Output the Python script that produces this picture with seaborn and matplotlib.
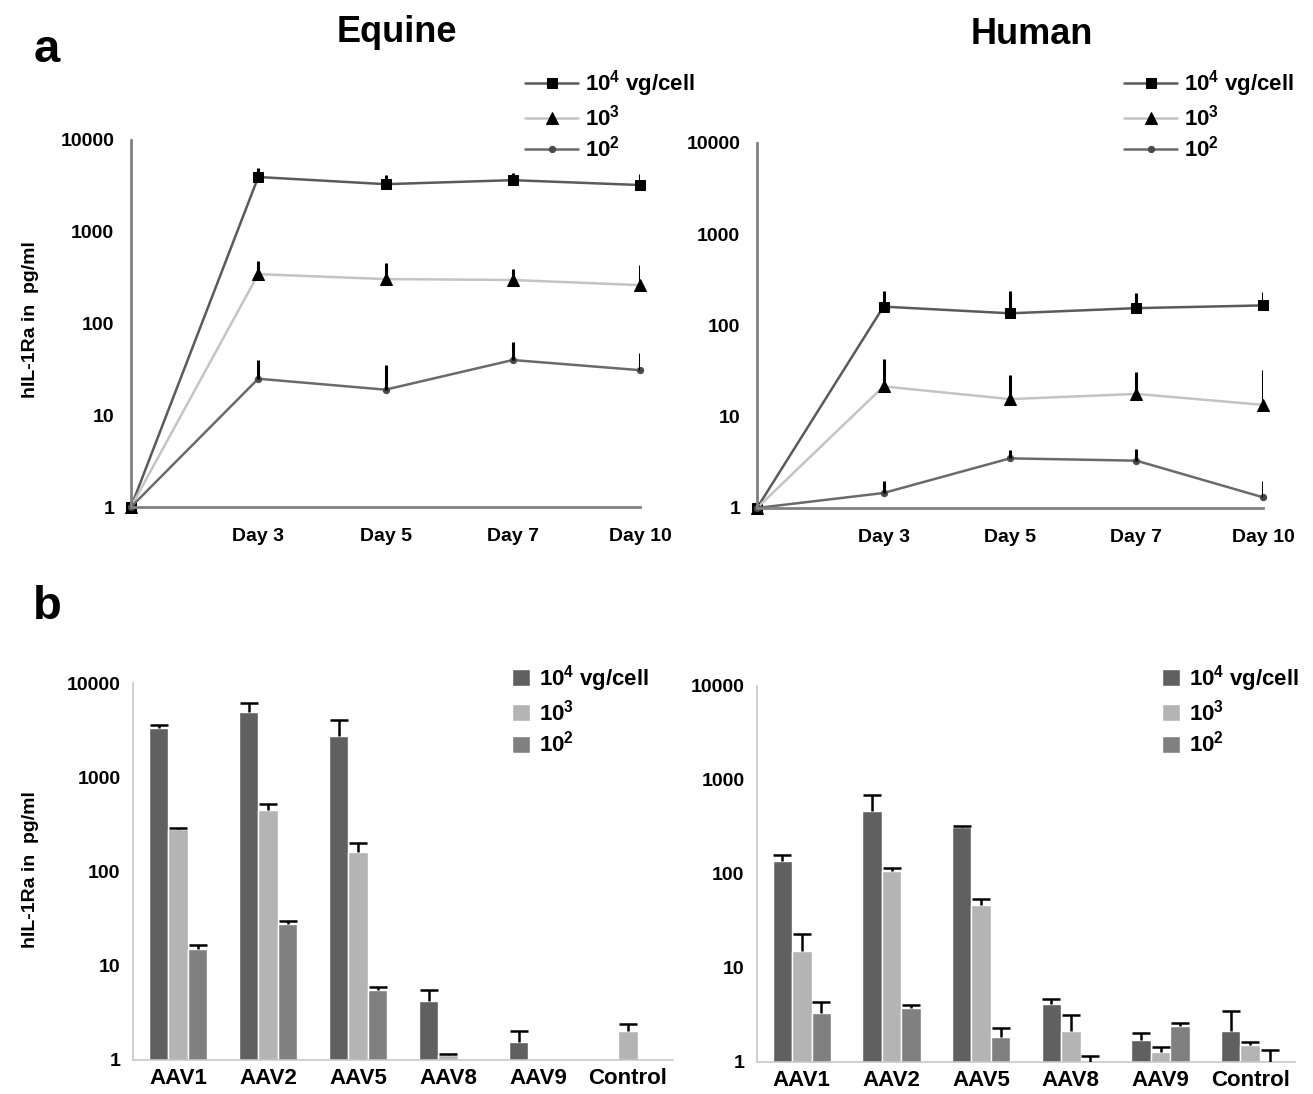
import numpy as np
import pandas as pd
import seaborn as sns
import matplotlib
matplotlib.use("Agg")
import matplotlib.pyplot as plt
from matplotlib.container import BarContainer

# ---- data ----
days = ["", "Day 3", "Day 5", "Day 7", "Day 10"]
dose_labels = ["10$^4$ vg/cell", "10$^3$", "10$^2$"]

# panel a, Equine: means and upper SD
eq_1e4 = [1, 3950, 3300, 3650, 3230]
eq_1e4_err = [0, 1000, 850, 700, 1020]
eq_1e3 = [1, 345, 305, 298, 262]
eq_1e3_err = [0, 135, 150, 92, 173]
eq_1e2 = [1, 25, 19, 40, 31]
eq_1e2_err = [0, 15, 16, 23, 17]

# panel a, Human
hu_1e4 = [1, 161, 136, 155, 166]
hu_1e4_err = [0, 79, 100, 71, 64]
hu_1e3 = [1, 21.5, 15.6, 17.8, 13.5]
hu_1e3_err = [0, 21.5, 13, 12.8, 19.2]
hu_1e2 = [1, 1.46, 3.5, 3.3, 1.31]
hu_1e2_err = [0, 0.54, 0.85, 1.1, 0.69]

# panel b
serotypes = ["AAV1", "AAV2", "AAV5", "AAV8", "AAV9", "Control"]
nan = np.nan
eqb_1e4 = [3360, 4890, 2760, 4.26, 1.56, nan]
eqb_1e4_err = [255, 1280, 1295, 1.21, 0.45, nan]
eqb_1e3 = [281, 454, 162, 1.12, nan, 2.05]
eqb_1e3_err = [5, 71, 39, 0.03, nan, 0.35]
eqb_1e2 = [15.1, 27.9, 5.57, nan, nan, nan]
eqb_1e2_err = [1.5, 1.8, 0.42, nan, nan, nan]

hub_1e4 = [137, 471, 315, 4.15, 1.73, 2.14]
hub_1e4_err = [24, 221, 11, 0.5, 0.31, 1.38]
hub_1e3 = [15.3, 107.5, 46.6, 2.14, 1.28, 1.5]
hub_1e3_err = [7.6, 7.5, 7.4, 1.05, 0.16, 0.13]
hub_1e2 = [3.35, 3.73, 1.85, 1.0, 2.44, 1.0]
hub_1e2_err = [0.97, 0.35, 0.47, 0.16, 0.18, 0.33]

# ---- style ----
sns.set_style("white")
plt.rcParams["font.family"] = ["Liberation Sans", "DejaVu Sans"]
plt.rcParams["font.weight"] = "bold"
plt.rcParams["text.color"] = "black"
plt.rcParams["xtick.labelcolor"] = "black"
plt.rcParams["ytick.labelcolor"] = "black"
plt.rcParams["mathtext.fontset"] = "custom"
plt.rcParams["mathtext.rm"] = "Liberation Sans:bold"
plt.rcParams["mathtext.bf"] = "Liberation Sans:bold"
plt.rcParams["mathtext.default"] = "bf"

W, H = 1313, 1094
fig = plt.figure(figsize=(W / 100, H / 100), dpi=100)


def px_axes(x0, y0, x1, y1):
    return fig.add_axes([x0 / W, 1 - y1 / H, (x1 - x0) / W, (y1 - y0) / H])


line_colors = ["#5a5a5a", "#c4c4c4", "#6a6a6a"]
markers = ["s", "^", "o"]
msizes = [7, 8, 4.5]
mcolors = ["black", "black", "#4a4a4a"]
bar_colors = ["#606060", "#b4b4b4", "#808080"]
yticks = [1, 10, 100, 1000, 10000]


def line_panel(ax, series, errs, legend_xy):
    x = np.arange(len(days))
    for i, (vals, err) in enumerate(zip(series, errs)):
        sns.lineplot(x=x, y=vals, ax=ax, color=line_colors[i], lw=1.8,
                     marker=markers[i], markersize=msizes[i],
                     markerfacecolor=mcolors[i], markeredgecolor=mcolors[i],
                     label=dose_labels[i], clip_on=False)
        ax.errorbar(x, vals, yerr=[np.zeros(len(err)), err], fmt="none",
                    ecolor="black", elinewidth=2.2, capsize=0, zorder=5)
    ax.set_yscale("log")
    ax.set_ylim(1, 10000)
    ax.set_xlim(0, 4)
    ax.set_yticks(yticks)
    ax.set_yticklabels([str(t) for t in yticks])
    ax.minorticks_off()
    ax.set_xticks(x)
    ax.set_xticklabels(days)
    ax.tick_params(axis="both", labelsize=14, length=7, width=1.6,
                   color="#808080", pad=5)
    ax.tick_params(axis="x", pad=8)
    for s in ["top", "right"]:
        ax.spines[s].set_visible(False)
    for s in ["left", "bottom"]:
        ax.spines[s].set_color("#808080")
        ax.spines[s].set_linewidth(2)
    ax.set_xlabel("")
    ax.set_ylabel("")
    ax.legend(loc="upper left", bbox_to_anchor=legend_xy,
              bbox_transform=fig.transFigure, frameon=False,
              prop={"size": 16, "weight": "bold"}, handlelength=2.4,
              handletextpad=0.3, labelspacing=0.25, borderpad=0,
              borderaxespad=0, numpoints=1)


def bar_panel(ax, series, errs, legend_xy):
    rows = []
    for i, vals in enumerate(series):
        for s, v in zip(serotypes, vals):
            rows.append({"serotype": s, "dose": dose_labels[i], "value": v})
    df = pd.DataFrame(rows)
    ax.set_yscale("log")
    sns.barplot(data=df, x="serotype", y="value", hue="dose",
                order=serotypes, hue_order=dose_labels,
                palette=bar_colors, errorbar=None, width=0.65, ax=ax,
                saturation=1)
    bars = [c for c in ax.containers if isinstance(c, BarContainer)]
    for i, cont in enumerate(bars):
        for p in cont.patches:
            cx = p.get_x() + p.get_width() / 2
            if not np.isfinite(p.get_height()):
                continue
            j = int(round(cx))
            e = errs[i][j]
            if not np.isfinite(e):
                continue
            top = series[i][j] + e
            # upper-only error bar with a single cap ("T" shape)
            ax.errorbar(cx, series[i][j], yerr=[[0], [e]], fmt="none",
                        ecolor="black", elinewidth=1.8, capsize=0, zorder=5)
            ax.plot([cx], [top], marker="_", markersize=13, mew=1.8,
                    color="black", zorder=5)
    ax.set_ylim(1, 10000)
    ax.set_xlim(-0.5, len(serotypes) - 0.5)
    ax.set_yticks(yticks)
    ax.set_yticklabels([str(t) for t in yticks])
    ax.minorticks_off()
    ax.set_xticks(np.arange(len(serotypes)))
    ax.set_xticklabels(serotypes)
    ax.set_xticks(np.arange(len(serotypes) + 1) - 0.5, minor=True)
    ax.tick_params(axis="x", which="major", length=0, labelsize=16, pad=6)
    ax.tick_params(axis="x", which="minor", length=5, width=1,
                   color="#c8c8c8")
    ax.tick_params(axis="y", labelsize=14, length=5, width=1,
                   color="#c8c8c8", pad=4)
    for s in ["top", "right"]:
        ax.spines[s].set_visible(False)
    for s in ["left", "bottom"]:
        ax.spines[s].set_color("#c8c8c8")
        ax.spines[s].set_linewidth(1.2)
    ax.set_xlabel("")
    ax.set_ylabel("")
    handles, labels = ax.get_legend_handles_labels()
    ax.legend(handles, labels, loc="upper left", bbox_to_anchor=legend_xy,
              bbox_transform=fig.transFigure, frameon=False,
              prop={"size": 16, "weight": "bold"}, handlelength=0.8,
              handleheight=0.8, handletextpad=0.4, labelspacing=0.25,
              borderpad=0, borderaxespad=0)


ax1 = px_axes(131, 140, 640, 507)
line_panel(ax1, [eq_1e4, eq_1e3, eq_1e2], [eq_1e4_err, eq_1e3_err, eq_1e2_err],
           (525 / W, 1 - 68 / H))
ax2 = px_axes(757, 143, 1263, 508)
line_panel(ax2, [hu_1e4, hu_1e3, hu_1e2], [hu_1e4_err, hu_1e3_err, hu_1e2_err],
           (1124 / W, 1 - 68 / H))
ax3 = px_axes(133, 683, 673, 1060)
bar_panel(ax3, [eqb_1e4, eqb_1e3, eqb_1e2], [eqb_1e4_err, eqb_1e3_err, eqb_1e2_err],
          (512 / W, 1 - 663 / H))
ax4 = px_axes(757, 686, 1295, 1062)
bar_panel(ax4, [hub_1e4, hub_1e3, hub_1e2], [hub_1e4_err, hub_1e3_err, hub_1e2_err],
          (1162 / W, 1 - 663 / H))

# panel letters, titles, y labels
fig.text(47 / W, 1 - 50 / H, "a", fontsize=34, fontweight="bold",
         ha="center", va="center")
fig.text(47 / W, 1 - 607 / H, "b", fontsize=34, fontweight="bold",
         ha="center", va="center")
fig.text(397 / W, 1 - 32 / H, "Equine", fontsize=26, fontweight="bold",
         ha="center", va="center")
fig.text(1032 / W, 1 - 35 / H, "Human", fontsize=26, fontweight="bold",
         ha="center", va="center")
fig.text(31 / W, 1 - 320 / H, "hIL-1Ra in  pg/ml", fontsize=14,
         fontweight="bold", rotation=90, ha="center", va="center")
fig.text(31 / W, 1 - 870 / H, "hIL-1Ra in  pg/ml", fontsize=14,
         fontweight="bold", rotation=90, ha="center", va="center")

fig.savefig("out.png", dpi=100)
